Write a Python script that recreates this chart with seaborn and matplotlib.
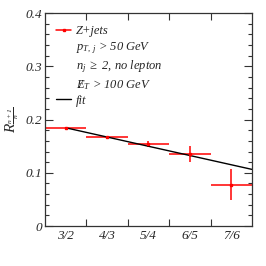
import numpy as np
import pandas as pd
import matplotlib
matplotlib.use("Agg")
import matplotlib.pyplot as plt
import seaborn as sns
from matplotlib.lines import Line2D
from matplotlib.ticker import MultipleLocator, FixedLocator

# ratio R_(n+1)/n per jet-multiplicity bin
bin_labels = ["3/2", "4/3", "5/4", "6/5", "7/6"]
ratio = [0.1846, 0.1666, 0.154, 0.1358, 0.0776]
ratio_err = [0.002, 0.003, 0.006, 0.0146, 0.029]

# straight-line fit, start (first bin centre) and end (right edge)
fit_x = [0.5, 5.0]
fit_y = [0.1846, 0.1065]

sns.set_theme(style="ticks")
plt.rcParams["font.family"] = ["Liberation Serif", "DejaVu Serif"]
plt.rcParams["font.style"] = "italic"
plt.rcParams["mathtext.fontset"] = "custom"
plt.rcParams["mathtext.rm"] = "Liberation Serif:italic"
plt.rcParams["mathtext.it"] = "Liberation Serif:italic"

df = pd.DataFrame({"bin": np.arange(len(bin_labels)) + 0.5,
                   "ratio": ratio, "err": ratio_err})
fit_df = pd.DataFrame({"x": fit_x, "y": fit_y})

fig, ax = plt.subplots(figsize=(2.66, 2.66), dpi=100)
fig.subplots_adjust(left=0.169, right=0.947, top=0.951, bottom=0.150)

ax.errorbar(df["bin"], df["ratio"], xerr=0.5, yerr=df["err"],
            fmt="s", color="red", ms=2, elinewidth=1.1, capsize=0)
sns.lineplot(data=fit_df, x="x", y="y", ax=ax, color="black", lw=1.0)

ax.set_xlim(0, 5)
ax.set_ylim(0, 0.4)
ax.set_xlabel("")
ax.set_ylabel(r"$R_{\frac{n+1}{n}}$", fontsize=11, labelpad=3)

# bin edges as ticks, labels at bin centres
ax.xaxis.set_major_locator(FixedLocator([1, 2, 3, 4]))
ax.xaxis.set_major_formatter(plt.NullFormatter())
ax.xaxis.set_minor_locator(FixedLocator(df["bin"]))
ax.set_xticklabels(bin_labels, minor=True)
ax.tick_params(axis="x", which="major", direction="in", length=5,
               top=True, bottom=True, width=0.8, color="#333333")
ax.tick_params(axis="x", which="minor", length=0, labelsize=9.5, pad=3)

ax.yaxis.set_minor_locator(MultipleLocator(0.02))
ax.set_yticks([0, 0.1, 0.2, 0.3, 0.4])
ax.set_yticklabels(["0", "0.1", "0.2", "0.3", "0.4"])
ax.tick_params(axis="y", which="major", direction="in", length=6,
               left=True, right=True, labelsize=9.5, pad=2, width=0.8,
               color="#333333")
ax.tick_params(axis="y", which="minor", direction="in", length=3,
               left=True, right=True, width=0.8, color="#333333")
for s in ax.spines.values():
    s.set_linewidth(0.9)
    s.set_color("#333333")

blank = Line2D([], [], color="none")
data_handle = Line2D([], [], color="red", lw=1.1, marker="s", ms=2)
fit_handle = Line2D([], [], color="black", lw=1.0)
ax.legend([data_handle, blank, blank, blank, fit_handle],
          ["Z+jets", r"$p_{T,\,j}$ > 50 GeV",
           r"$n_j$ $\geq$ 2, no lepton",
           r"$/\!\!\!\!E_T$ > 100 GeV", "fit"],
          loc="upper left", bbox_to_anchor=(0.0, 0.995), frameon=False,
          fontsize=9, handlelength=1.2, handletextpad=0.35,
          labelspacing=0.22, borderaxespad=0.5)

fig.savefig("out.png", dpi=100)
